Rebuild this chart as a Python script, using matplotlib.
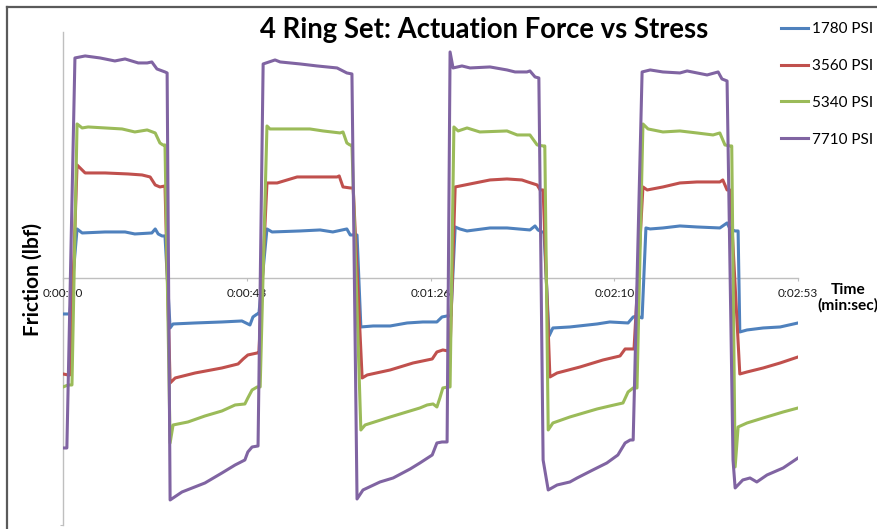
import matplotlib
matplotlib.use("Agg")
from matplotlib import pyplot as plt
from matplotlib.lines import Line2D
import numpy as np

plt.rcParams["font.family"] = ["Lato", "DejaVu Sans"]

# elapsed time (s) and friction (lbf) for each seal stress
t_1780 = [0, 1.6, 3.3, 4.5, 9.9, 14.6, 16.9, 20.9, 21.7, 22.4, 23.3, 24.0,
          25.2, 25.9, 31.1, 37.4, 42.1, 44.0, 44.7, 45.7, 46.1,
          48.0, 49.2, 55.8, 60.5, 63.5, 66.8, 67.6, 69.2,
          70.1, 73.0, 77.0, 81.0, 84.7, 88.0, 89.2, 90.4, 91.3,
          92.3, 93.4, 95.1, 100.5, 104.5, 109.9, 111.1, 111.8, 112.7, 113.2,
          114.4, 115.3, 119.3, 125.7, 128.7, 133.0, 134.2, 135.1, 136.3,
          137.2, 138.2, 141.2, 145.2, 149.2, 154.6, 156.3, 157.0, 158.2, 158.9,
          159.3, 161.0, 164.8, 168.8, 173.0]
f_1780 = [-36, -36, 49, 45, 46, 46, 44, 45, 49, 44, 42, 42,
          -50, -46, -45, -44, -43, -47, -39, -36, -36,
          49, 46, 47, 48, 46, 49, 43, 43,
          -49, -48, -48, -45, -44, -44, -39, -38, -38,
          51, 49, 47, 50, 50, 48, 52, 48, 46, 46,
          -58, -50, -49, -46, -44, -45, -39, -38, -40,
          50, 49, 50, 52, 51, 50, 55, 49, 47, 47,
          -54, -52, -50, -49, -45]

t_3560 = [0, 1.2, 1.6, 3.3, 5.2, 9.9, 15.3, 18.6, 20.5, 21.7, 22.8, 24.0,
          25.2, 26.4, 31.1, 37.4, 41.2, 42.4, 43.5, 45.7, 46.1,
          48.0, 50.4, 55.1, 59.8, 64.5, 65.0, 65.9, 67.6, 68.3,
          70.4, 71.6, 77.0, 82.4, 86.9, 88.0, 89.4, 90.6, 91.1,
          92.3, 95.8, 100.5, 104.5, 108.0, 109.4, 111.6, 112.3, 113.0,
          114.6, 116.3, 121.7, 127.1, 131.1, 132.3, 133.5, 134.4,
          136.5, 137.5, 141.2, 145.2, 149.2, 154.6, 155.3, 156.3, 157.0,
          159.3, 161.0, 164.8, 168.8, 173.0]
f_3560 = [-96, -97, -97, 113, 105, 105, 104, 103, 101, 93, 91, 92,
          -105, -100, -95, -90, -86, -81, -77, -75, -75,
          95, 95, 101, 101, 101, 102, 91, 90, 90,
          -100, -97, -92, -85, -81, -74, -72, -73, -73,
          91, 94, 98, 99, 98, 96, 93, 88, 88,
          -99, -95, -89, -82, -78, -71, -71, -71,
          91, 88, 91, 95, 96, 96, 98, 88, 88,
          -96, -94, -90, -85, -79]

t_5340 = [0, 1.2, 2.1, 3.3, 4.5, 5.9, 9.9, 13.9, 16.9, 19.8, 21.7, 22.8, 23.5, 24.0,
          25.2, 25.9, 29.4, 33.4, 37.4, 40.5, 42.8, 43.5, 44.5, 45.7, 46.4,
          48.0, 48.7, 51.8, 58.1, 61.2, 65.2, 65.9, 66.8, 67.5, 68.0,
          70.1, 71.1, 77.0, 84.0, 85.7, 87.1, 88.0, 88.7, 89.4, 90.6, 91.1,
          92.0, 93.0, 95.1, 98.1, 104.5, 106.9, 109.9, 111.6, 113.0, 113.4,
          114.2, 115.3, 119.3, 125.7, 128.7, 131.8, 133.0, 134.2, 135.1,
          136.5, 137.7, 141.2, 145.2, 149.2, 153.0, 154.6, 155.8, 157.0, 157.4,
          158.2, 158.9, 161.0, 164.8, 169.5, 173.0]
f_5340 = [-109, -107, -107, 154, 150, 151, 150, 149, 146, 148, 145, 135, 133, 133,
          -165, -147, -144, -138, -133, -127, -126, -120, -112, -109, -109,
          152, 149, 149, 149, 147, 145, 146, 135, 133, 133,
          -152, -147, -139, -130, -127, -126, -129, -120, -110, -109, -109,
          151, 147, 150, 146, 147, 143, 143, 133, 132, 132,
          -152, -145, -139, -131, -128, -125, -114, -110, -110,
          154, 149, 146, 147, 145, 143, 145, 133, 132, 132,
          -189, -149, -145, -140, -134, -130]

t_7710 = [0, 0.9, 2.8, 5.2, 8.7, 12.2, 14.6, 17.7, 19.8, 20.9, 22.1, 24.0, 24.5,
          25.2, 28.0, 30.4, 33.4, 37.4, 40.5, 42.8, 43.5, 44.5, 45.9,
          47.1, 49.9, 51.1, 55.8, 59.8, 64.5, 66.8, 68.0,
          69.2, 70.6, 74.6, 77.7, 81.7, 84.0, 86.9, 88.0, 89.2, 90.4,
          91.1, 91.8, 93.9, 95.8, 100.5, 104.5, 106.4, 109.2, 109.9, 111.1, 112.0,
          113.0, 114.2, 116.3, 119.3, 121.0, 124.7, 128.0, 130.6, 132.3, 133.5, 134.2,
          136.3, 138.2, 141.2, 145.2, 146.9, 151.6, 154.2, 155.1, 156.3,
          157.7, 158.2, 160.0, 161.7, 163.3, 165.7, 169.5, 173.0]
f_7710 = [-170, -170, 220, 222, 220, 217, 219, 215, 215, 216, 209, 206, 205,
          -222, -214, -210, -205, -195, -187, -182, -174, -169, -168,
          214, 218, 216, 214, 212, 210, 205, 204,
          -221, -212, -204, -200, -191, -185, -177, -165, -164, -164,
          226, 210, 212, 210, 211, 208, 206, 206, 207, 201, 200,
          -182, -212, -207, -204, -200, -192, -185, -177, -165, -162, -162,
          206, 208, 206, 205, 207, 203, 206, 199, 197,
          -182, -210, -202, -200, -204, -197, -190, -180]

series_labels = ["1780 PSI", "3560 PSI", "5340 PSI", "7710 PSI"]
series_colors = ["#4F81BD", "#C0504D", "#9BBB59", "#8064A2"]
time_labels = ["0:00:00", "0:00:43", "0:01:26", "0:02:10", "0:02:53"]

t_end = 173.0
y_lim = (-247, 246)


def make_plot():
    fig = plt.figure(figsize=(8.78, 5.29), dpi=100)
    ax = fig.add_axes([0.0718, 0.0076, 0.8371, 0.932])

    times = [t_1780, t_3560, t_5340, t_7710]
    forces = [f_1780, f_3560, f_5340, f_7710]
    for t, f, lab, col in zip(times, forces, series_labels, series_colors):
        ax.plot(t, f, color=col, lw=2.2, label=lab, solid_joinstyle="round")

    ax.set_xlim(0, t_end)
    ax.set_ylim(*y_lim)

    # axis lines through zero, no box
    for side in ["top", "right"]:
        ax.spines[side].set_visible(False)
    ax.spines["bottom"].set_position(("data", 0))
    ax.spines["left"].set_position(("data", 0))
    for side in ["bottom", "left"]:
        ax.spines[side].set_color("#BFBFBF")
        ax.spines[side].set_linewidth(1.0)
        ax.spines[side].set_zorder(0.5)

    ax.set_xticks(np.linspace(0, t_end, len(time_labels)))
    ax.set_xticklabels(time_labels, fontsize=8.5, color="#1A1A1A")
    ax.tick_params(axis="x", direction="out", length=2.5, width=0.8,
                   color="#BFBFBF", pad=5)
    ax.set_yticks([y_lim[0]])
    ax.set_yticklabels([])
    ax.tick_params(axis="y", direction="out", length=2.5, width=0.8, color="#BFBFBF")

    fig.text(484 / 878, 1 - 30 / 529, "4 Ring Set: Actuation Force vs Stress",
             fontsize=19.8, fontweight="bold", ha="center", va="center")
    fig.text(33 / 878, 1 - 279 / 529, "Friction (lbf)", fontsize=15,
             fontweight="bold", rotation=90, ha="center", va="center")
    fig.text(848 / 878, 1 - 298 / 529, "Time\n(min:sec)", fontsize=11.2,
             fontweight="bold", ha="center", va="center", linespacing=1.05)

    ax.legend(loc="upper left", bbox_to_anchor=(781 / 878, 1 - 22 / 529),
              bbox_transform=fig.transFigure, frameon=False, fontsize=11,
              handlelength=1.75, handletextpad=0.25, labelspacing=1.5,
              borderpad=0, borderaxespad=0)

    # outer frame edges
    fig.add_artist(Line2D([7 / 878, 1], [1 - 7 / 529, 1 - 7 / 529],
                          transform=fig.transFigure, color="#5A5A5A", lw=1.6))
    fig.add_artist(Line2D([7 / 878, 7 / 878], [0, 1 - 7 / 529],
                          transform=fig.transFigure, color="#5A5A5A", lw=1.6))

    fig.savefig("out.png", dpi=100)


if __name__ == "__main__":
    make_plot()
